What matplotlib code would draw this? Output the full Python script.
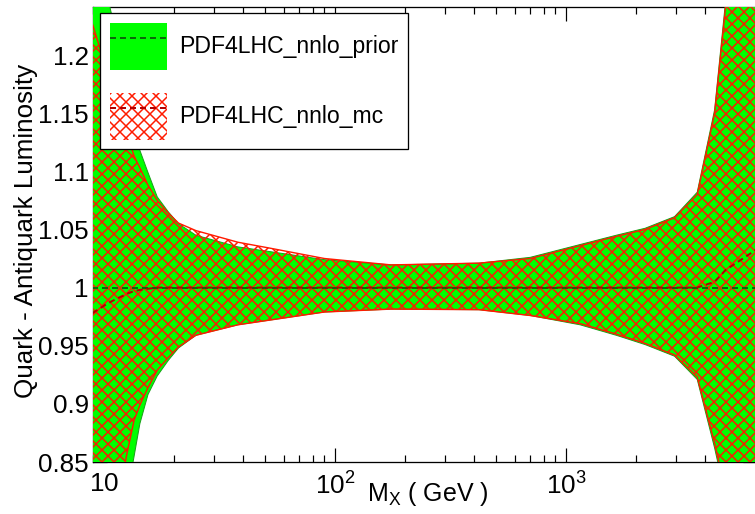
import numpy as np
import matplotlib
matplotlib.use("Agg")
import matplotlib.pyplot as plt
from matplotlib.patches import Patch
from matplotlib.lines import Line2D
from matplotlib.ticker import FixedLocator, FixedFormatter, LogLocator, NullFormatter

# ---------------- data ----------------
mass = [8.9, 10.5, 12.5, 13.5, 14.3, 15.5, 17, 19, 21, 25, 38, 52, 90, 175,
        420, 700, 1150, 1650, 2200, 2950, 3700, 4400, 4900, 6700]

prior_upper = [1.31, 1.245, 1.18, 1.145, 1.118, 1.099, 1.078, 1.065, 1.055, 1.045,
               1.035, 1.031, 1.024, 1.0195, 1.021, 1.026, 1.037, 1.045, 1.051, 1.061,
               1.082, 1.153, 1.245, 1.55]
prior_lower = [0.66, 0.735, 0.818, 0.855, 0.883, 0.908, 0.924, 0.9375, 0.948, 0.959,
               0.968, 0.972, 0.979, 0.9815, 0.981, 0.976, 0.968, 0.959, 0.951, 0.941,
               0.921, 0.862, 0.82, 0.72]
prior_central = [1.0] * 24

mc_upper = [1.227, 1.181, 1.134, 1.113, 1.103, 1.088, 1.075, 1.064, 1.0555, 1.049,
            1.039, 1.034, 1.025, 1.0195, 1.021, 1.025, 1.036, 1.044, 1.050, 1.060,
            1.080, 1.150, 1.24, 1.54]
mc_lower = [0.70, 0.765, 0.855, 0.886, 0.899, 0.914, 0.929, 0.940, 0.949, 0.959,
            0.968, 0.972, 0.979, 0.9815, 0.981, 0.976, 0.969, 0.960, 0.952, 0.942,
            0.923, 0.866, 0.825, 0.73]
mc_central = [0.978, 0.987, 0.9945, 0.997, 0.998, 0.999, 1.0, 1.0, 1.0, 1.0,
              1.0, 1.0, 1.0, 1.0, 1.0, 1.0, 1.0, 1.0, 1.0, 1.0,
              1.0, 1.005, 1.015, 1.033]

labels = ["PDF4LHC_nnlo_prior", "PDF4LHC_nnlo_mc"]
ytick_values = [0.85, 0.9, 0.95, 1.0, 1.05, 1.1, 1.15, 1.2]
ytick_labels = ["0.85", "0.9", "0.95", "1", "1.05", "1.1", "1.15", "1.2"]
xtick_values = [10, 100, 1000]
xtick_labels = [r"$\mathregular{10}$", r"$\mathregular{10^2}$", r"$\mathregular{10^3}$"]
xlabel = r"$\mathregular{M_X}$ ( GeV )"
ylabel = "Quark - Antiquark Luminosity"

# ---------------- style ----------------
plt.rcParams['font.family'] = ['Liberation Sans', 'DejaVu Sans']
plt.rcParams['mathtext.fontset'] = 'custom'
plt.rcParams['mathtext.rm'] = 'Liberation Sans'
plt.rcParams['mathtext.it'] = 'Liberation Sans:italic'
plt.rcParams['mathtext.bf'] = 'Liberation Sans:bold'
plt.rcParams['hatch.linewidth'] = 1.5

DPI = 72
fig = plt.figure(figsize=(755 / DPI, 514 / DPI), dpi=DPI)
ax = fig.add_axes([93 / 755, 52 / 514, 664 / 755, 455 / 514])

x = np.array(mass)
green = '#00ff00'
hatch_red = '#ff1a00'
ax.fill_between(x, prior_lower, prior_upper, facecolor=green, edgecolor='#1aa01a',
                linewidth=1.0, zorder=3)
ax.fill_between(x, mc_lower, mc_upper, facecolor='none', edgecolor=hatch_red,
                hatch='xx', linewidth=1.4, zorder=4)
ax.plot(x, prior_central, color='#0a6a0a', ls='--', lw=2, dashes=(3, 2), zorder=4.5)
ax.plot(x, mc_central, color='#b40000', ls='--', lw=2, dashes=(3, 2), zorder=4.6)

ax.set_xscale('log')
ax.set_xlim(10 ** 0.9524, 10 ** (1 + (757 - 104) / 231))
ax.set_ylim(0.85, 1.2413)

ax.xaxis.set_major_locator(FixedLocator(xtick_values))
ax.xaxis.set_major_formatter(FixedFormatter(xtick_labels))
ax.xaxis.set_minor_locator(LogLocator(base=10, subs=np.arange(2, 10)))
ax.xaxis.set_minor_formatter(NullFormatter())
ax.yaxis.set_major_locator(FixedLocator(ytick_values))
ax.yaxis.set_major_formatter(FixedFormatter(ytick_labels))

ax.tick_params(which='both', direction='in', top=True, right=True, width=1.2,
               labelsize=26, colors='black')
ax.tick_params(which='major', length=14)
ax.tick_params(which='minor', length=7)
ax.tick_params(axis='x', pad=10)
ax.tick_params(axis='y', pad=4)
for s in ax.spines.values():
    s.set_linewidth(1.3)

ax.set_xlabel(xlabel, fontsize=25)
ax.xaxis.set_label_coords(0.504, -0.040)
ax.set_ylabel(ylabel, fontsize=26)
ax.yaxis.set_label_coords(-0.083, 0.508)

handles = [
    (Patch(facecolor=green, edgecolor='none'),
     Line2D([], [], color='#0a6a0a', ls='--', lw=2, dashes=(3, 2))),
    (Patch(facecolor='white', edgecolor=hatch_red, hatch='xx', linewidth=0),
     Line2D([], [], color='#b40000', ls='--', lw=2, dashes=(3, 2))),
]
leg = ax.legend(handles, labels, loc='upper left',
                bbox_to_anchor=(7 / 664, 1 - 6 / 455), borderaxespad=0,
                fontsize=23, handlelength=2.5, handleheight=2.77,
                handletextpad=0.5, borderpad=0.42, labelspacing=1.0,
                fancybox=False, edgecolor='black', framealpha=1)
leg.get_frame().set_linewidth(1.3)
leg.set_zorder(10)

fig.savefig('out.png', dpi=DPI)
